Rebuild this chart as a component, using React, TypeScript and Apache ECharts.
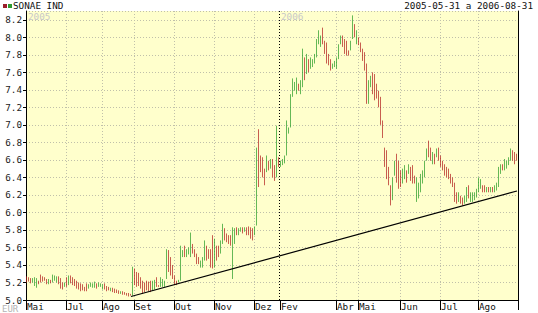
import React, { useEffect, useRef } from 'react';
import * as echarts from 'echarts';

const seriesName = 'SONAE IND';
const periodText = '2005-05-31 a 2006-08-31';
const currencyText = 'EUR';
const yearLabels = ['2005', '2006'];

// open / close per trading session (body spans the session range)
const opens = [
  5.27, 5.26, 5.25, 5.20, 5.16, 5.14, 5.22, 5.29, 5.27, 5.26,
  5.24, 5.18, 5.23, 5.20, 5.22, 5.20, 5.27, 5.25, 5.20, 5.15,
  5.26, 5.17, 5.28, 5.26, 5.24, 5.22, 5.20, 5.19, 5.18, 5.15,
  5.19, 5.13, 5.15, 5.14, 5.14, 5.19, 5.15, 5.15, 5.12, 5.19,
  5.16, 5.15, 5.10, 5.14, 5.13, 5.12, 5.11, 5.07, 5.10, 5.09,
  5.08, 5.08, 5.07, 5.05, 5.36, 5.32, 5.31, 5.26, 5.22, 5.20,
  5.22, 5.21, 5.22, 5.11, 5.12, 5.26, 5.17, 5.15, 5.15, 5.15,
  5.24, 5.57, 5.49, 5.40, 5.28, 5.22, 5.20, 5.22, 5.49, 5.62,
  5.49, 5.52, 5.49, 5.64, 5.58, 5.53, 5.49, 5.37, 5.37, 5.45,
  5.62, 5.58, 5.58, 5.74, 5.37, 5.62, 5.62, 5.53, 5.64, 5.82,
  5.76, 5.74, 5.74, 5.24, 5.64, 5.83, 5.74, 5.78, 5.83, 5.78,
  5.83, 5.84, 5.83, 5.82, 5.74, 5.85, 6.95, 6.65, 6.63, 6.50,
  6.46, 6.59, 6.50, 6.61, 6.54, 6.40, 6.63, 6.52, 6.54, 6.56,
  6.65, 6.90, 6.97, 7.32, 7.39, 7.35, 7.47, 7.35, 7.43, 7.77,
  7.58, 7.75, 7.64, 7.66, 7.70, 7.77, 7.92, 7.89, 8.11, 7.96,
  7.94, 7.81, 7.75, 7.64, 7.66, 7.64, 7.75, 7.92, 8.02, 7.98,
  7.96, 7.85, 7.85, 7.98, 8.15, 7.92, 8.00, 7.94, 7.87, 7.83,
  7.70, 7.24, 7.43, 7.60, 7.58, 7.47, 7.39, 7.32, 7.05, 6.74,
  6.71, 6.52, 6.31, 6.14, 6.42, 6.67, 6.59, 6.48, 6.33, 6.38,
  6.48, 6.44, 6.52, 6.54, 6.42, 6.12, 6.16, 6.23, 6.33, 6.40,
  6.59, 6.82, 6.74, 6.55, 6.67, 6.63, 6.74, 6.65, 6.59, 6.55,
  6.52, 6.50, 6.44, 6.40, 6.34, 6.23, 6.12, 6.19, 6.17, 6.10,
  6.12, 6.31, 6.12, 6.12, 6.14, 6.17, 6.23, 6.27, 6.31, 6.31,
  6.23, 6.29, 6.23, 6.29, 6.23, 6.25, 6.29, 6.44, 6.55, 6.48,
  6.50, 6.54, 6.59, 6.71, 6.69, 6.67,
];
const closes = [
  5.20, 5.21, 5.19, 5.25, 5.26, 5.25, 5.18, 5.20, 5.21, 5.22,
  5.18, 5.24, 5.19, 5.29, 5.28, 5.27, 5.18, 5.13, 5.12, 5.20,
  5.15, 5.28, 5.19, 5.17, 5.16, 5.13, 5.12, 5.10, 5.11, 5.10,
  5.10, 5.18, 5.20, 5.19, 5.21, 5.13, 5.20, 5.19, 5.18, 5.12,
  5.10, 5.11, 5.14, 5.09, 5.08, 5.08, 5.07, 5.10, 5.06, 5.06,
  5.05, 5.04, 5.05, 5.38, 5.17, 5.15, 5.16, 5.13, 5.07, 5.09,
  5.11, 5.10, 5.09, 5.22, 5.23, 5.15, 5.15, 5.26, 5.24, 5.22,
  5.58, 5.32, 5.28, 5.24, 5.17, 5.17, 5.23, 5.62, 5.57, 5.49,
  5.58, 5.60, 5.77, 5.53, 5.49, 5.41, 5.41, 5.45, 5.49, 5.68,
  5.45, 5.47, 5.37, 5.36, 5.70, 5.45, 5.49, 5.68, 5.87, 5.68,
  5.66, 5.64, 5.62, 5.83, 5.82, 5.74, 5.82, 5.83, 5.76, 5.83,
  5.74, 5.74, 5.70, 5.68, 5.84, 6.74, 6.29, 6.46, 6.40, 6.31,
  6.65, 6.48, 6.61, 6.40, 6.36, 6.99, 6.52, 6.59, 6.61, 6.65,
  7.05, 6.97, 7.35, 7.53, 7.49, 7.54, 7.39, 7.51, 7.87, 7.51,
  7.81, 7.60, 7.77, 7.75, 7.81, 7.98, 8.08, 8.02, 7.92, 7.81,
  7.70, 7.68, 7.62, 7.70, 7.73, 7.77, 7.92, 8.02, 7.89, 7.81,
  7.79, 7.79, 7.96, 8.25, 8.00, 8.08, 7.91, 7.83, 7.73, 7.62,
  7.24, 7.51, 7.56, 7.35, 7.28, 7.30, 7.20, 7.00, 6.85, 6.52,
  6.38, 6.31, 6.08, 6.40, 6.59, 6.34, 6.27, 6.29, 6.50, 6.54,
  6.34, 6.55, 6.36, 6.33, 6.33, 6.40, 6.34, 6.44, 6.48, 6.59,
  6.73, 6.63, 6.59, 6.69, 6.55, 6.73, 6.59, 6.52, 6.48, 6.42,
  6.40, 6.38, 6.33, 6.29, 6.12, 6.10, 6.23, 6.10, 6.08, 6.19,
  6.29, 6.16, 6.23, 6.23, 6.23, 6.27, 6.40, 6.38, 6.23, 6.23,
  6.29, 6.23, 6.29, 6.23, 6.31, 6.34, 6.52, 6.55, 6.48, 6.61,
  6.59, 6.63, 6.73, 6.59, 6.55, 6.59,
];

// month labels and the session index where each one starts
const monthTickIndex = [0, 20, 38, 54, 74, 94, 114, 127, 155, 166, 187, 207, 226];
const monthLabels = ['Mai', 'Jul', 'Ago', 'Set', 'Out', 'Nov', 'Dez', 'Fev', 'Abr', 'Mai', 'Jun', 'Jul', 'Ago'];
const yearLineIndex = 126;

// support (trend) line: [session index, price]
const trendStart = [52, 5.04];
const trendEnd = [245, 6.245];

const UP = '#239a23';
const DOWN = '#b01818';
const FONT = 'DejaVu Sans Mono';

export default function App() {
  const ref = useRef<HTMLDivElement>(null);
  useEffect(() => {
    if (!ref.current) return;
    const chart = echarts.init(ref.current, undefined, { renderer: 'svg' });
    const categories = opens.map((_, i) => String(i));
    const data = opens.map((o, i) => {
      const c = closes[i];
      return [o, c, Math.min(o, c), Math.max(o, c)];
    });
    const tickSet = new Set(monthTickIndex);
    const option: any = {
      animation: false,
      backgroundColor: '#ffffff',
      textStyle: { fontFamily: FONT },
      grid: {
        left: 26, right: 20, top: 11, bottom: 13,
        show: true, backgroundColor: '#ffffcc', borderWidth: 0,
      },
      xAxis: {
        type: 'category',
        data: categories,
        boundaryGap: true,
        axisLine: { show: true, lineStyle: { color: '#000', width: 1 } },
        axisTick: {
          show: true, length: 10, lineStyle: { color: '#000', width: 1 },
          interval: (idx: number) => tickSet.has(idx),
        },
        axisLabel: {
          show: true,
          interval: (idx: number) => tickSet.has(idx),
          formatter: (_v: string, idx: number) => monthLabels[monthTickIndex.indexOf(idx)] ?? '',
          align: 'left',
          margin: 2,
          color: '#111',
          fontFamily: FONT,
          fontSize: 9.3,
        },
        splitLine: {
          show: true,
          interval: (idx: number) => tickSet.has(idx) && idx !== 0 && idx !== 127,
          lineStyle: { color: '#c0c0aa', type: [1, 2], width: 1 },
        },
      },
      yAxis: [
        {
          type: 'value', min: 5.0, max: 8.3, interval: 0.2,
          axisLine: { show: true, lineStyle: { color: '#000', width: 1 } },
          axisTick: { show: true, length: 3, lineStyle: { color: '#000' } },
          axisLabel: {
            formatter: (v: number) => v.toFixed(1),
            showMaxLabel: false,
            margin: 4, color: '#222', fontFamily: FONT, fontSize: 9.3,
          },
          splitLine: { show: true, lineStyle: { color: '#c0c0aa', type: [1, 2], width: 1 } },
        },
        {
          type: 'value', min: 5.0, max: 8.3, interval: 0.2, position: 'right',
          axisLine: { show: true, lineStyle: { color: '#000', width: 1 } },
          axisTick: { show: false }, axisLabel: { show: false }, splitLine: { show: false },
        },
      ],
      series: [
        {
          name: seriesName,
          type: 'candlestick',
          data,
          barWidth: 1,
          itemStyle: {
            color: UP, color0: DOWN, borderColor: UP, borderColor0: DOWN, borderWidth: 0.7,
          },
          markLine: {
            silent: true,
            symbol: ['none', 'none'],
            label: { show: false },
            data: [
              { xAxis: yearLineIndex, lineStyle: { color: '#000', type: [1, 2], width: 1 } },
              [
                { coord: trendStart, lineStyle: { color: '#000', type: 'solid', width: 1.2 } },
                { coord: trendEnd },
              ],
            ],
          },
        },
      ],
      graphic: [
        { type: 'rect', shape: { x: 3, y: 4, width: 4, height: 4 }, style: { fill: '#9a1f2a' } },
        { type: 'rect', shape: { x: 8, y: 4, width: 4, height: 4 }, style: { fill: '#2f9a2f' } },
        { type: 'text', x: 13, y: 0.5, style: { text: seriesName, fill: '#111', font: `9.3px "${FONT}"`, textVerticalAlign: 'top' } },
        { type: 'text', x: 533, y: 0.5, style: { text: periodText, fill: '#111', font: `9.3px "${FONT}"`, textAlign: 'right', textVerticalAlign: 'top' } },
        { type: 'text', x: 2, y: 304.5, style: { text: currencyText, fill: '#b4b4b4', font: `9px "${FONT}"`, textVerticalAlign: 'top' } },
        { type: 'text', x: 28, y: 12, style: { text: yearLabels[0], fill: '#c8c8c8', font: `9.3px "${FONT}"`, textVerticalAlign: 'top' } },
        { type: 'text', x: 281, y: 12, style: { text: yearLabels[1], fill: '#c8c8c8', font: `9.3px "${FONT}"`, textVerticalAlign: 'top' } },
      ],
    };
    chart.setOption(option);
    return () => chart.dispose();
  }, []);
  return (
    <div
      ref={ref}
      style={{ position: 'absolute', left: 0, top: 0, width: 538, height: 313, background: '#fff' }}
    />
  );
}
